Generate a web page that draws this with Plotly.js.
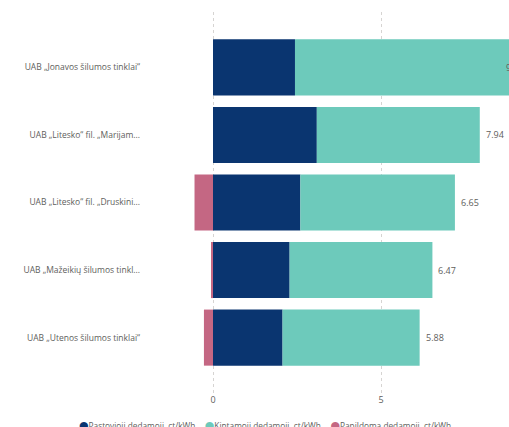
<!DOCTYPE html>
<html>
<head>
<meta charset="utf-8">
<script src="https://cdn.plot.ly/plotly-3.0.1.min.js"></script>
<style>
html,body{margin:0;padding:0;overflow:hidden;width:509px;height:427px;background:#fff;}
#chart{width:700px;height:427px;}
</style>
</head>
<body>
<div id="chart"></div>
<script>
const categories = [
  "UAB „Jonavos šilumos tinklai“",
  "UAB „Litesko“ fil. „Marijam...",
  "UAB „Litesko“ fil. „Druskini...",
  "UAB „Mažeikių šilumos tinkl...",
  "UAB „Utenos šilumos tinklai“"
];
const pastovioji = [2.44, 3.09, 2.60, 2.28, 2.07];
const kintamoji  = [7.00, 4.85, 4.60, 4.25, 4.08];
const papildoma  = [0.00, 0.00, -0.55, -0.06, -0.27];
const seriesNames = ["Pastovioji dedamoji, ct/kWh", "Kintamoji dedamoji, ct/kWh", "Papildoma dedamoji, ct/kWh"];
const colors = ["#0A3570", "#6DCABB", "#C46783"];
const xTicks = [0, 5];

const textColor = "#605E5C";
const font = "Open Sans, sans-serif";

const seriesVals = [pastovioji, kintamoji, papildoma];
const traces = seriesVals.map((vals, i) => ({
  type: "bar",
  orientation: "h",
  y: categories,
  x: vals,
  name: seriesNames[i],
  marker: {color: colors[i], line: {width: 0}},
  showlegend: false,
  legendgroup: "g" + i,
  hoverinfo: "x+name"
}));
// legend entries: round colour dot placed right next to the text
seriesNames.forEach((n, i) => {
  traces.push({
    type: "scatter", mode: "markers", x: [null], y: [null],
    name: '<span style="font-family:DejaVu Sans;font-size:11px;color:' + colors[i] + '">●</span>' + n,
    legendgroup: "g" + i, showlegend: true,
    marker: {symbol: "circle", size: 1, color: "rgba(0,0,0,0)"}
  });
});
// blank spacer entry so the last legend text is not clipped
traces.push({
  type: "scatter", mode: "markers", x: [null], y: [null], name: " ",
  showlegend: true, hoverinfo: "skip",
  marker: {symbol: "circle", size: 1, color: "rgba(0,0,0,0)"}
});

const figW = 700, marginL = 141, marginR = 0, plotW = figW - marginL - marginR;
const pxPerUnit = 33.6;
const xRange = [-(213 - marginL) / pxPerUnit, -(213 - marginL) / pxPerUnit + plotW / pxPerUnit];
const visibleRight = 509;

const annotations = categories.map((c, k) => {
  const posEnd = pastovioji[k] + kintamoji[k];
  const total = pastovioji[k] + kintamoji[k] + papildoma[k];
  const endPx = marginL + (posEnd - xRange[0]) * pxPerUnit;
  const inside = endPx + 26 > visibleRight;
  return {
    x: posEnd, y: c, xref: "x", yref: "y",
    text: total.toFixed(2),
    showarrow: false,
    xanchor: inside ? "right" : "left",
    xshift: inside ? -4 : 4,
    font: {family: font, size: 9, color: textColor}
  };
});

const layout = {
  width: figW, height: 427,
  margin: {l: marginL, r: marginR, t: 12, b: 34, autoexpand: false},
  paper_bgcolor: "#fff", plot_bgcolor: "#fff",
  barmode: "relative",
  bargap: 0.17,
  font: {family: font, color: textColor},
  xaxis: {
    range: xRange,
    tickvals: xTicks,
    showgrid: true, gridcolor: "#D6D4D2", griddash: "dot", gridwidth: 1,
    zeroline: false, showline: false, ticks: "",
    tickfont: {family: font, size: 9, color: textColor}
  },
  yaxis: {
    type: "category",
    range: [4.82, -0.82],
    showgrid: false, zeroline: false, showline: false, ticks: "",
    tickfont: {family: font, size: 8.5, color: textColor}
  },
  showlegend: true,
  legend: {
    orientation: "h", xref: "container", yref: "container",
    x: 54 / figW, xanchor: "left", y: 0.004, yanchor: "middle",
    font: {family: font, size: 8.3, color: textColor},
    indentation: -15,
    entrywidth: 95.7, entrywidthmode: "pixels",
    itemwidth: 30, tracegroupgap: 0, bgcolor: "rgba(0,0,0,0)"
  },
  annotations: annotations
};

Plotly.newPlot("chart", traces, layout, {displayModeBar: false, staticPlot: true});
</script>
</body>
</html>
